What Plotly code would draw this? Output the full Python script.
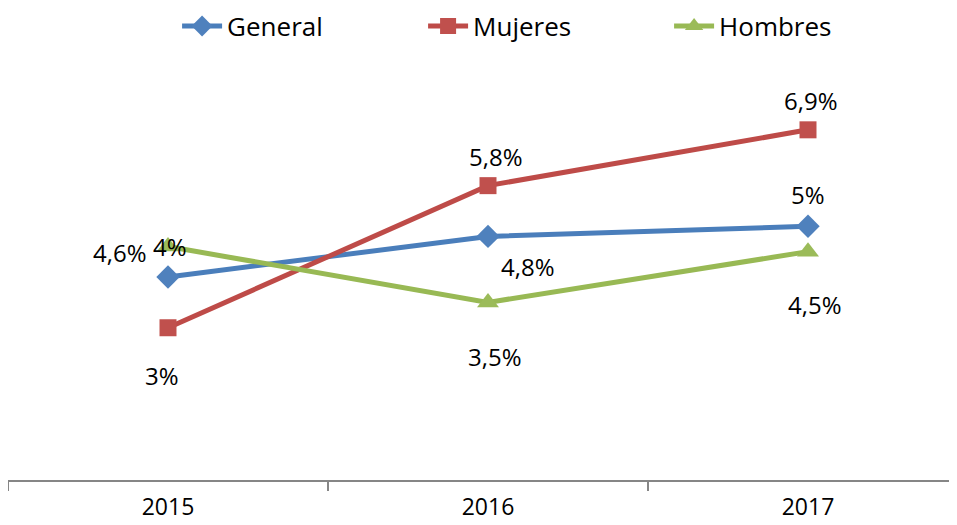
import plotly.graph_objects as go

years = ["2015", "2016", "2017"]
general = [4.0, 4.8, 5.0]
mujeres = [3.0, 5.8, 6.9]
hombres = [4.6, 3.5, 4.5]

# label offsets (px) relative to each point, as placed in the original
general_off = [(2, -31), (40, 30), (0, -32)]
mujeres_off = [(-6, 48), (8, -29), (3, -29)]
hombres_off = [(-48, 6), (7, 54), (7, 53)]

FONT = "Open Sans"
FS_LABEL = 24
FS_TICK = 23
FS_LEGEND = 26

def fmt(v):
    return f"{v:g}".replace(".", ",") + "%"

fig = go.Figure()
series = [
    ("General", general, "#4A7EBB", "#4F81BD", "diamond", 18, general_off),
    ("Mujeres", mujeres, "#BE4B48", "#C0504D", "square", 17, mujeres_off),
    ("Hombres", hombres, "#98B954", "#9BBB59", "triangle-up", 19, hombres_off),
]
annotations = []
for name, vals, lc, mc, sym, ms, offs in series:
    fig.add_trace(go.Scatter(
        x=years, y=vals, name=name, mode="lines+markers",
        line=dict(color=lc, width=5),
        marker=dict(symbol=sym, size=ms, color=mc, line=dict(width=0)),
    ))
    for i, (yv, (dx, dy)) in enumerate(zip(vals, offs)):
        annotations.append(dict(
            x=i, y=yv, xref="x", yref="y", text=fmt(yv), showarrow=False,
            xshift=dx, yshift=-dy, font=dict(family=FONT, size=FS_LABEL, color="#000000"),
            xanchor="center", yanchor="middle",
        ))

W, H = 949, 517
fig.update_layout(
    width=W, height=H,
    margin=dict(l=0, r=0, t=66, b=45, autoexpand=False),
    paper_bgcolor="white", plot_bgcolor="white",
    font=dict(family=FONT, size=FS_LABEL, color="#000000"),
    showlegend=True,
    legend=dict(orientation="h", x=0.567, xanchor="center", y=1.118, yanchor="middle",
                font=dict(family=FONT, size=FS_LEGEND), entrywidth=191, entrywidthmode="pixels",
                itemwidth=40, bgcolor="rgba(0,0,0,0)"),
    annotations=annotations,
    xaxis=dict(type="category", range=[-0.5, -0.5 + W / 320.0], tickson="boundaries",
               ticks="outside", ticklen=9, tickwidth=2, tickcolor="#868686",
               showline=True, linecolor="#868686", linewidth=2, showgrid=False,
               zeroline=False, ticklabelstandoff=5,
               tickfont=dict(family=FONT, size=FS_TICK)),
    yaxis=dict(range=[0, 8], visible=False, showgrid=False, zeroline=False),
)

fig.write_html("out.html")
